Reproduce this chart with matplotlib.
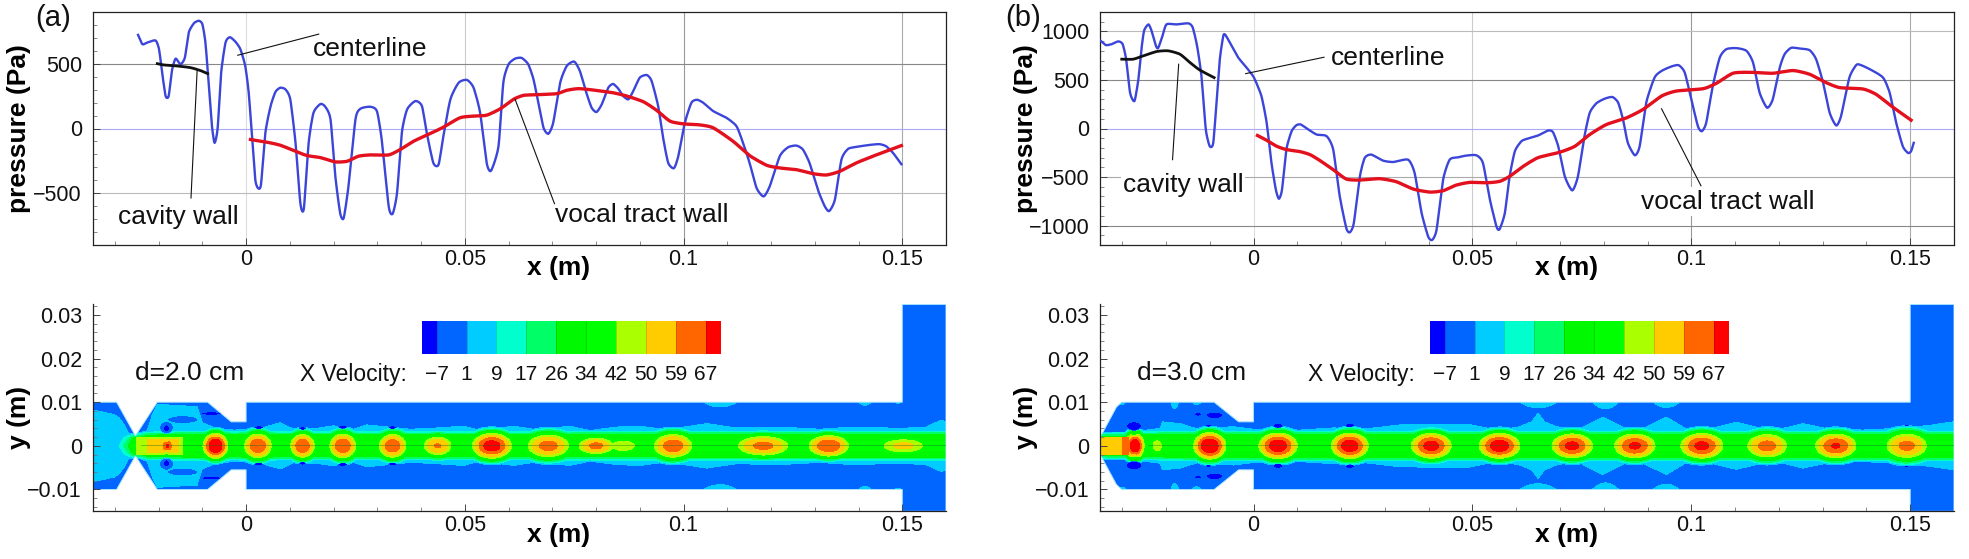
import numpy as np
import matplotlib
matplotlib.use("Agg")
import matplotlib.pyplot as plt
from matplotlib.patches import Polygon
from matplotlib.ticker import FixedLocator

plt.rcParams['font.family'] = ['Liberation Sans', 'DejaVu Sans']

W, H = 1969, 559

# ---- wall pressure and centerline pressure, x in mm, p in Pa ----
center_x_a = [-24.7,-23.7,-22.6,-20.7,-19.9,-19.2,-18.4,-17.7,-16.9,-16.1,-15.0,-14.0,-13.1,-11.9,-10.8,-10.0,-9.3,-8.5,-7.8,-7.2,-6.5,-5.7,-4.7,-3.7,-2.4,-1.3,-0.2,0.6,1.4,2.1,2.7,3.4,4.4,5.6,6.7,7.8,9.0,10.1,11.3,12.4,13.2,14.3,15.4,17.0,18.1,19.3,20.4,21.5,22.3,23.4,25.0,26.1,28.4,29.9,31.0,32.6,33.5,34.5,35.6,36.8,38.7,40.2,41.3,42.8,44.0,45.1,46.7,48.6,50.5,52.0,53.5,55.0,56.0,57.7,58.8,60.0,61.5,63.0,64.5,65.7,66.8,68.0,69.1,70.2,71.8,73.3,75.0,76.3,77.9,79.0,80.1,81.3,82.8,83.9,85.1,86.2,87.4,88.5,90.0,91.6,92.7,94.2,95.4,96.5,97.8,98.8,100.3,101.8,103.1,104.5,106.8,109.8,112.1,113.6,115.1,116.7,118.3,119.7,122.0,123.9,125.8,127.3,128.8,130.7,132.3,133.3,134.6,136.1,137.6,139.5,142.5,144.8,146.3,147.9,149.8]
center_p_a = [723,651,664,680,612,432,251,251,457,540,496,548,742,814,832,806,664,328,18,-111,5,432,664,705,669,612,483,276,-85,-395,-460,-434,-34,173,282,315,302,225,-111,-576,-620,-111,121,189,168,70,-370,-654,-693,-447,70,152,168,134,-85,-602,-659,-499,-34,147,212,173,-34,-266,-279,-59,225,354,375,315,121,-266,-326,-137,354,496,540,545,496,380,199,5,-41,44,354,483,517,444,264,160,127,186,315,344,307,251,225,289,393,413,367,173,-85,-266,-307,-214,44,199,222,199,134,83,18,-111,-266,-460,-525,-447,-214,-145,-132,-163,-266,-473,-602,-638,-550,-240,-158,-142,-127,-121,-137,-189,-276]
tract_x_a = [1.0,4.8,7.8,11.3,13.9,17.0,20.4,23.1,25.7,28.4,32.6,35.2,38.3,42.1,45.1,48.9,52.0,55.0,58.1,61.1,63.4,66.4,71.0,73.3,76.0,79.4,83.9,87.0,90.8,93.8,96.9,99.9,103.7,106.8,111.3,115.1,119.0,122.0,125.8,129.6,132.7,135.7,139.5,143.3,146.3,149.8]
tract_p_a = [-85,-106,-129,-176,-209,-225,-258,-253,-214,-204,-204,-163,-98,-39,10,83,96,103,152,225,256,261,269,295,308,297,276,251,207,142,57,36,28,5,-98,-209,-284,-305,-318,-349,-359,-331,-266,-214,-176,-132]
cavity_x_a = [-20.3,-18.8,-15.8,-12.7,-10.4,-8.8]
cavity_p_a = [501,491,483,470,447,424]

center_x_b = [-34.9,-33.7,-32.4,-30.9,-29.9,-29.1,-28.2,-27.2,-26.3,-25.6,-25.0,-24.0,-23.3,-22.3,-21.8,-20.9,-19.9,-17.6,-14.9,-13.9,-12.9,-11.9,-10.9,-10.0,-9.2,-8.4,-7.7,-6.9,-6.4,-5.0,-3.5,-1.6,0.1,1.8,3.0,4.1,5.1,5.8,6.5,7.5,8.7,9.8,10.8,12.5,14.4,16.7,18.2,19.7,21.2,22.0,22.9,24.3,25.4,26.9,29.6,31.9,35.3,36.8,38.4,39.9,40.8,41.8,43.3,44.8,46.7,48.6,50.9,52.4,54.0,55.5,56.2,57.4,58.5,59.7,61.2,62.7,65.0,67.3,68.4,69.6,71.1,72.8,74.1,75.6,76.8,78.3,80.2,82.0,83.3,84.4,85.5,87.1,88.2,89.7,91.6,93.2,95.4,97.1,98.5,100.0,101.5,102.4,103.4,104.9,106.5,108.0,110.3,112.6,114.1,115.6,117.3,118.6,120.2,121.3,122.8,124.7,127.0,128.5,130.1,131.6,133.1,134.2,136.1,137.7,138.8,141.1,143.8,145.3,146.8,148.3,149.5,150.2,150.8]
center_p_b = [903,859,869,897,869,714,369,283,507,817,1007,1072,1007,852,828,938,1072,1072,1083,1041,852,541,-10,-183,-148,300,714,955,962,852,731,628,524,334,59,-355,-631,-724,-631,-217,-28,34,41,-10,-62,-79,-217,-700,-1027,-1069,-976,-493,-303,-269,-331,-345,-321,-459,-872,-1114,-1148,-1045,-528,-321,-297,-279,-276,-355,-734,-1010,-1038,-872,-493,-234,-131,-103,-72,-21,-38,-183,-493,-638,-493,-79,162,259,307,324,265,93,-148,-276,-183,265,524,593,638,652,576,300,24,-28,59,438,731,817,828,800,679,369,214,300,628,765,831,824,807,714,472,162,31,128,524,655,652,603,524,369,59,-183,-252,-234,-148]
tract_x_b = [0.9,3.0,5.3,7.5,10.6,12.9,15.1,18.2,21.2,24.3,28.8,32.6,36.5,40.3,43.3,46.3,49.4,53.2,56.2,58.5,61.6,65.0,69.9,73.4,76.8,80.6,85.2,89.0,93.2,96.6,102.7,105.7,109.5,113.3,118.6,123.2,127.0,130.8,133.9,139.2,142.2,146.0,150.2]
tract_p_b = [-72,-121,-183,-217,-238,-269,-328,-424,-521,-531,-517,-548,-624,-655,-641,-583,-555,-559,-545,-493,-390,-300,-245,-183,-62,41,110,197,334,386,410,465,569,579,569,597,559,472,421,407,352,221,86]
cavity_x_b = [-30.1,-27.5,-25.2,-22.1,-19.5,-16.8,-14.5,-12.3,-9.0]
cavity_p_b = [714,714,748,793,800,765,679,603,524]

# ---- velocity contour levels and band colours ----
levels = [-7, 1, 9, 17, 26, 34, 42, 50, 59, 67]
band_colors = ['#0000ff', '#0066ff', '#00ccff', '#00ffcc', '#00ff66', '#00f800',
               '#00ff00', '#aaff00', '#ffcc00', '#ff6600', '#ff0000']

# ---- tract outline (upper half), mm ----
outline_x_a = [-35, -29.6, -25.3, -20.3, -8.8, -3.4, 0, 0]
outline_y_a = [10, 10, 2.3, 10, 10, 5.5, 5.5, 10]
outline_x_b = [-35, -31.3, -30.1, -9, -3.4, 0, 0]
outline_y_b = [2.0, 8.9, 10, 10, 5.5, 5.5, 10]

# ---- jet edges (half-widths in mm at the 26, 17 and 9 contours) ----
core_x_a = [-35, -30.2, -29, -28, -27, -26.2, -25.3, -24.1, -22.6, -20.3, -11.2, -6.6, -2.8, 2.5, 7.8, 160]
core_26_a = [-6, -4.5, -3, -1.5, 0, 1.6, 2.0, 2.0, 2.4, 2.5, 2.6, 2.7, 2.5, 2.7, 2.5, 2.6]
core_17_a = [-5, -3, -1.5, 0, 1.5, 2.1, 2.4, 2.4, 2.8, 2.9, 3.0, 3.1, 2.9, 3.1, 2.9, 3.0]
core_9_a = [-4, -2, 0, 1.8, 2.3, 2.5, 2.7, 2.8, 3.1, 3.2, 3.4, 3.4, 3.2, 3.4, 3.2, 3.3]
core_x_b = [-35, -30, -25, -10, 160]
core_26_b = [2.1, 2.2, 2.5, 2.7, 2.7]
core_17_b = [2.5, 2.7, 2.9, 3.1, 3.1]
core_9_b = [2.9, 3.0, 3.2, 3.4, 3.4]

# ---- outer edge of the shear layer (half-width at the 1 contour, mm) ----
wake_x_a = [-34.9,-30.2,-29,-27.9,-26.8,-24.1,-22.6,-21.5,-20.3,-11.2,-10,-6.6,-2.8,2.5,7.8,10.9,16.2,20,23.8,27.6,30.7,37.5,42.1,49.7,53.5,61.1,66.4,74,78.6,84.7,90,96.1,105.3,112.1,122,131.1,138.7,149.8,155.4,158.9,160]
wake_w_a = [8.2,7.2,6.4,4.9,2.8,3.0,3.5,7.0,9.5,9.0,5.3,3.9,3.6,3.8,5.3,3.8,4.0,4.6,3.5,4.8,4.5,3.8,4.0,4.5,3.5,4.5,3.7,4.5,3.5,4.3,4.5,3.7,5.1,4.1,4.3,3.8,4.3,4.0,4.3,5.9,5.5]
wake_x_b = [-35,-30,-28.6,-24.4,-21.3,-20.8,-16.8,-12.3,-9.2,-4.6,0,10.6,18.2,25.8,33.4,48.6,56.2,60.8,63.5,65,66.5,69.2,73.7,79.8,85.2,88.2,94.3,98.9,105,110.3,115.6,120.2,125.5,131.6,139.2,149.1,154.4,159.9]
wake_w_b = [-1,1,3.0,3.6,4,5.5,5.1,3.7,4.1,4.4,3.8,3.6,4.1,3.9,4.8,5,3.5,4.4,5.5,7.5,5.5,4.4,3.5,6.6,3.8,3.6,6.6,3.8,4.1,5.4,4.1,3.8,5.1,3.8,3.6,4.1,4.7,5.5]

# ---- velocity maxima along the jet: x, peak, half-length, half-height ----
blob_x_a = [-18.0,-7.0,2.7,12.9,22.1,33.5,43.8,56.2,69.1,80.0,86.2,97.6,118.2,133.2,150.2]
blob_u_a = [68,76,67,67,67,66,60,72,63,62,50,65,62,67,53]
blob_l_a = [1.7,3.1,3.4,3.0,3.3,3.4,3.5,4.9,5.2,4.4,3.4,4.8,6.4,5.0,5.4]
blob_h_a = [2.2,3.1,3.0,2.9,3.0,2.9,2.3,3.1,2.8,2.0,1.4,2.9,2.4,2.6,1.7]
blob_x_b = [-27.1,-22,-10.0,5.6,22.0,40.6,56.2,72.8,87.1,102.4,117.3,133,149.2]
blob_u_b = [75,48,76,73,73,71,73,70,69,70,63,68,62]
blob_l_b = [2.3,1.3,4.0,4.8,4.6,5.0,5.1,5.1,5.1,5.3,5.0,5.1,5.1]
blob_h_b = [3.1,1.6,3.3,3.2,3.2,3.1,3.1,3.0,3.0,3.1,2.9,3.0,3.0]

# ---- uniform blocks of the jet root: x0, x1, half-height, value ----
block_a = [(-25.0, -14.4, 1.9, 46), (-22.5, -15.5, 1.5, 53)]
block_b = [(-35.0, -30.0, 2.0, 54), (-30.0, -28.4, 2.0, 62)]

# ---- recirculation spots: x, |y|, half-length, half-height, edge value ----
spot_a = [(-18.2,4.2,1.6,1.4,1),(-14.5,6.0,3.5,0.9,1),(-18.2,4.0,.7,.8,-7),(2.9,4.2,1.0,.4,-7),
          (12.9,4.0,.8,.4,-7),(22.1,4.3,1.0,.45,-7),(33.5,4.2,.9,.4,-7),(-7.9,7.4,2.4,.4,-7)]
spot_b = [(-27.3,4.5,1.7,1.0,-7),(5.6,4.6,1.1,.55,-7),(22,4.7,1,.5,-7),(-10.3,4.6,.7,.3,-7),
          (-12.7,7.2,.85,.4,-7),(-8.9,7,1.9,.75,-7),(149.2,4.7,.6,.25,-7)]

# ---- weak flow patches on the wall: x, half-length, depth ----
wall_a = [(108.4,3.8,1.1),(141.5,1.4,.7),(149,.7,.3)]
wall_b = [(65,4.2,1.3),(80.4,3,1.5),(94.3,3,1.2),(-18,.9,1.4),(-13,1,.6),(-30,.8,.5)]

# ---- axis ticks ----
x_ticks = [0, 0.05, 0.1, 0.15]
x_labels = ['0', '0.05', '0.1', '0.15']
x_minor = [-0.03, -0.02, -0.01, 0.01, 0.02, 0.03, 0.04, 0.06, 0.07, 0.08, 0.09, 0.11, 0.12, 0.13, 0.14]
y_ticks_a = [-500, 0, 500]
y_ticks_b = [-1000, -500, 0, 500, 1000]
y_ticks_field = [-0.01, 0, 0.01, 0.02, 0.03]
y_labels_field = ['\u22120.01', '0', '0.01', '0.02', '0.03']


def axes_px(left, top, right, bottom):
    return plt.gcf().add_axes([left / W, 1 - bottom / H, (right - left) / W, (bottom - top) / H])


def rounded(x, y, n=6, tension=0.32):
    """Cardinal spline rendering of a sampled curve, passing through every sample."""
    p = np.column_stack([x, y]).astype(float)
    p = np.vstack([2 * p[0] - p[1], p, 2 * p[-1] - p[-2]])
    t = np.linspace(0, 1, n, endpoint=False)[:, None]
    h00 = 2 * t ** 3 - 3 * t ** 2 + 1
    h10 = t ** 3 - 2 * t ** 2 + t
    h01 = -2 * t ** 3 + 3 * t ** 2
    h11 = t ** 3 - t ** 2
    segs = []
    for i in range(1, len(p) - 2):
        m1 = tension * (p[i + 1] - p[i - 1])
        m2 = tension * (p[i + 2] - p[i])
        segs.append(h00 * p[i] + h10 * m1 + h01 * p[i + 1] + h11 * m2)
    segs.append(p[-2][None, :])
    out = np.vstack(segs)
    return out[:, 0], out[:, 1]


def velocity_field(core_x, c26, c17, c9, wake_x, wake_w, blobs, blocks, spots, walls):
    xs = np.arange(-35, 160.05, 0.1)
    ys = np.arange(-15, 32.55, 0.04)
    X, Y = np.meshgrid(xs, ys)
    A = np.abs(Y)
    e26 = np.interp(xs, core_x, c26)
    e17 = np.interp(xs, core_x, c17)
    e9 = np.interp(xs, core_x, c9)
    e1 = np.maximum(np.interp(xs, wake_x, wake_w), e9 + 0.1)
    U = np.empty_like(X)
    vals = [36, 26, 17, 9, 1, -2]
    for i in range(xs.size):
        U[:, i] = np.interp(A[:, i],
                            [e26[i] - 2, e26[i], e17[i], e9[i], e1[i], e1[i] + 0.4], vals)
    for x0, peak, lx, ly in zip(*blobs):
        r2 = ((X - x0) / lx) ** 2 + (Y / ly) ** 2
        U = np.maximum(U, peak - (peak - 36) * r2)
    for x0, x1, hy, val in blocks:
        m = (X >= x0) & (X <= x1) & (A <= hy)
        U[m] = np.maximum(U[m], val)
    for x0, lx, depth in walls:
        edge = 10 - depth * (1 - ((X - x0) / lx) ** 2)
        U = np.maximum(U, np.minimum(8, 1 + 6 * (A - edge)) * (A <= 10.5) - 2 * (A > 10.5))
    for x0, y0, lx, ly, edge in spots:
        r2 = ((X - x0) / lx) ** 2 + ((A - y0) / ly) ** 2
        U = np.minimum(U, edge + 6 * (r2 - 1) + 30 * (r2 > 1.3))
    return xs, ys, U


def outline_polygon(ox, oy):
    ux = list(ox) + [150, 150, 160]
    uy = list(oy) + [10, 32.4, 32.4]
    lx = [160, 150, 150] + list(ox)[::-1]
    ly = [-15, -15, -10] + [-v for v in oy][::-1]
    return np.column_stack([np.array(ux + lx) / 1000, np.array(uy + ly) / 1000])


def style_axis(ax):
    for s in ax.spines.values():
        s.set_linewidth(0.9)
        s.set_color('#222222')
    ax.tick_params(which='major', direction='in', length=5, width=0.7, color='#444444',
                   labelsize=15.5, labelcolor='#111111')
    ax.tick_params(axis='x', which='major', pad=3)
    ax.tick_params(axis='y', which='major', pad=8)
    ax.tick_params(which='minor', direction='in', length=3, width=0.6, color='#777777')


def pressure_panel(left, right, ylim, yticks, minor, cx, cp, tx, tp, kx, kp, texts, leaders, letter,
                   letter_x, grid_x, grid_y, boxed):
    ax = axes_px(left, 12, right, 245)
    ax.set_xlim(-0.035, 0.16)
    ax.set_ylim(*ylim)
    for v, c in zip(x_ticks, grid_x):
        ax.axvline(v, color=c, lw=0.8, zorder=1)
    for v, c in zip(yticks, grid_y):
        ax.axhline(v, color=c, lw=0.8, zorder=1)
    for xs, ys, c, lw, z in ((cx, cp, '#3b45d9', 1.7, 3), (tx, tp, '#e3101e', 2.4, 4), (kx, kp, '#111111', 2.0, 4)):
        rx, ry = rounded(np.array(xs) / 1000, ys)
        ax.plot(rx, ry, color=c, lw=lw, zorder=z, solid_joinstyle='round')
    for (x0, y0, x1, y1) in leaders:
        ax.plot([x0 / 1000, x1 / 1000], [y0, y1], color='#111111', lw=0.8, zorder=5)
    for (x0, y0, s) in texts:
        bb = dict(fc='white', ec='none', pad=1.5) if boxed else None
        ax.text(x0 / 1000, y0, s, fontsize=19, ha='left', va='center', color='#111111', zorder=2, bbox=bb)
    ax.set_xticks(x_ticks, x_labels)
    ax.xaxis.set_minor_locator(FixedLocator(x_minor))
    ax.set_yticks(yticks, [str(v).replace('-', '\u2212') for v in yticks])
    ax.yaxis.set_minor_locator(FixedLocator(minor))
    style_axis(ax)
    ax.set_xlabel('x (m)', fontsize=19, fontweight='bold')
    ax.xaxis.set_label_coords(0.546, -0.098)
    ax.xaxis.label.set_va('center')
    ax.set_ylabel('pressure (Pa)', fontsize=19, fontweight='bold')
    ax.yaxis.set_label_coords(-74 / (right - left), 0.5)
    ax.yaxis.label.set_va('center')
    plt.gcf().text(letter_x / W, 1 - 18 / H, letter, fontsize=21, ha='left', va='center', color='#111111')
    return ax


def field_panel(left, right, core, wake, blobs, blocks, spots, walls, outline, caption, caption_x, bar_left):
    ax = axes_px(left, 304, right, 511.3)
    ax.set_xlim(-0.035, 0.16)
    ax.set_ylim(-0.015, 0.0325)
    xs, ys, U = velocity_field(*core, *wake, blobs, blocks, spots, walls)
    cs = ax.contourf(xs / 1000, ys / 1000, U, levels=[-200] + levels + [300], colors=band_colors)
    clip = Polygon(outline_polygon(*outline), closed=True, transform=ax.transData,
                   fc='none', ec='#a8e4ff', lw=0.7)
    ax.add_patch(clip)
    cs.set_clip_path(clip)
    axis_line = ax.plot([-0.024, 0.16], [0.0003, 0.0003], color='#0a6a2a', lw=0.6, alpha=0.45)[0]
    axis_line.set_clip_path(clip)
    ax.set_xticks(x_ticks, x_labels)
    ax.xaxis.set_minor_locator(FixedLocator(x_minor))
    ax.set_yticks(y_ticks_field, y_labels_field)
    ax.yaxis.set_minor_locator(FixedLocator(np.arange(-0.014, 0.0325, 0.002)))
    style_axis(ax)
    ax.spines['top'].set_visible(False)
    ax.spines['right'].set_visible(False)
    ax.set_xlabel('x (m)', fontsize=19, fontweight='bold')
    ax.xaxis.set_label_coords(0.546, -0.115)
    ax.xaxis.label.set_va('center')
    ax.set_ylabel('y (m)', fontsize=19, fontweight='bold')
    ax.yaxis.set_label_coords(-74 / (right - left), 0.455)
    ax.yaxis.label.set_va('center')
    ax.text(caption_x / 1000, 0.0167, caption, fontsize=19, ha='left', va='center', color='#111111')

    # contour legend: one swatch per band, end bands half width
    cax = axes_px(bar_left, 320.7, bar_left + 299, 354)
    edges = np.concatenate([[-0.5], np.arange(len(levels)), [len(levels) - 0.5]])
    cax.pcolormesh(edges, [0, 1], np.arange(len(band_colors)).reshape(1, -1),
                   cmap=matplotlib.colors.ListedColormap(band_colors), vmin=-0.5,
                   vmax=len(band_colors) - 0.5)
    cax.vlines(np.arange(len(levels)), 0, 1, color='#00000030', lw=0.6)
    cax.axis('off')
    for i, lv in enumerate(levels):
        cax.text(i, -0.63, str(lv).replace('-', '\u2212'), fontsize=15, ha='center', va='center', color='#111111')
    cax.text(-0.5 - 0.5, -0.63, 'X Velocity:', fontsize=16.5, ha='right', va='center', color='#111111')
    return ax


fig = plt.figure(figsize=(W / 100, H / 100), dpi=100, facecolor='white')

y_minor_a = [v for v in range(-800, 801, 100) if v % 500]
y_minor_b = [v for v in range(-1100, 1101, 100) if v % 500]

pressure_panel(93, 946, (-900, 900), y_ticks_a, y_minor_a, center_x_a, center_p_a, tract_x_a, tract_p_a,
               cavity_x_a, cavity_p_a,
               [(15.3, 612, 'centerline'), (-29.3, -685, 'cavity wall'), (70.6, -672, 'vocal tract wall')],
               [(-1.9, 566, 16.6, 729), (-11.2, 444, -12.6, -537), (61.5, 225, 70.5, -581)],
               '(a)', 35, ['#dddddd', '#cccccc', '#999999', '#aaaaaa'], ['#bbbbbb', '#aaaaf5', '#888888'], False)
pressure_panel(1100.3, 1954, (-1200, 1200), y_ticks_b, y_minor_b, center_x_b, center_p_b, tract_x_b, tract_p_b,
               cavity_x_b, cavity_p_b,
               [(17.6, 731, 'centerline'), (-29.9, -579, 'cavity wall'), (88.4, -752, 'vocal tract wall')],
               [(-1.8, 565, 16.1, 734), (-17.1, 662, -18.5, -321), (93.2, 203, 102.2, -590)],
               '(b)', 1005, ['#dddddd', '#cccccc', '#999999', '#aaaaaa'],
               ['#888888', '#aaaaaa', '#aaaaf5', '#888888', '#bbbbbb'], True)

field_panel(93, 946,
            (core_x_a, core_26_a, core_17_a, core_9_a), (wake_x_a, wake_w_a),
            (blob_x_a, blob_u_a, blob_l_a, blob_h_a), block_a, spot_a, wall_a,
            (outline_x_a, outline_y_a), 'd=2.0 cm', -25.3, 421.7)
field_panel(1100.3, 1954,
            (core_x_b, core_26_b, core_17_b, core_9_b), (wake_x_b, wake_w_b),
            (blob_x_b, blob_u_b, blob_l_b, blob_h_b), block_b, spot_b, wall_b,
            (outline_x_b, outline_y_b), 'd=3.0 cm', -26.6, 1429.7)

fig.savefig('out.png', dpi=100, facecolor='white')
